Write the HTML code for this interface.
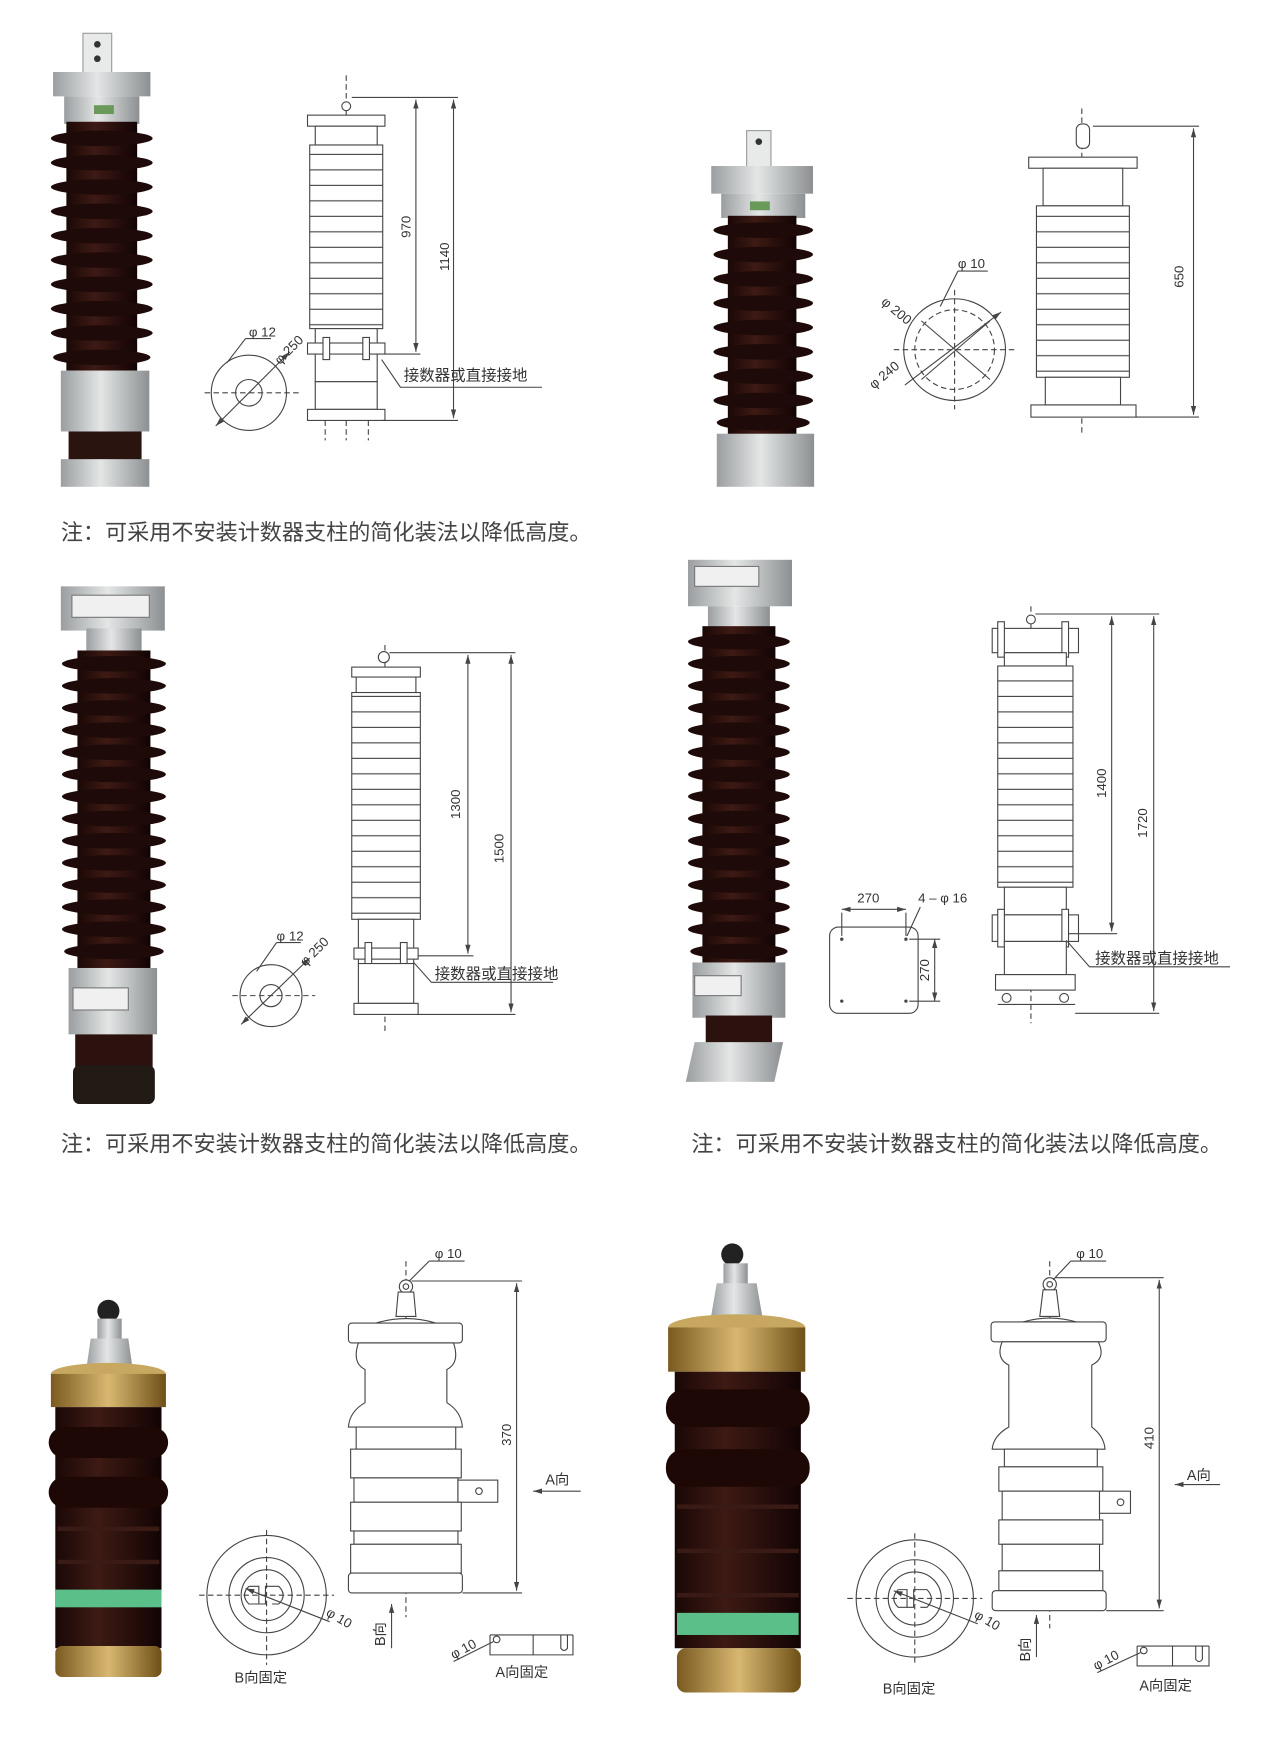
<!DOCTYPE html>
<html><head><meta charset="utf-8"><style>
html,body{margin:0;padding:0;background:#fff;}
svg{display:block;}
text{font-family:"Liberation Sans","Noto Sans CJK SC",sans-serif;fill:#333;}
.cap{font-size:20px;fill:#444;}
.l{fill:none;stroke:#444;stroke-width:1;}
.w{fill:#fff;stroke:#444;stroke-width:1;}
.d{fill:none;stroke:#444;stroke-width:1;stroke-dasharray:5,3;}
.t{font-size:12px;}
</style></head><body>
<svg width="1261" height="1749" viewBox="0 0 1140 1581" xmlns="http://www.w3.org/2000/svg">
<defs>
<marker id="ar" viewBox="0 0 10 10" refX="10" refY="5" markerWidth="8" markerHeight="8" orient="auto-start-reverse"><path d="M0,2 L10,5 L0,8z" fill="#444"/></marker>
<pattern id="dsh" x="0" y="0" width="400" height="14" patternUnits="userSpaceOnUse"><line x1="0" y1="13.5" x2="400" y2="13.5" stroke="#444"/></pattern>
<linearGradient id="met" x1="0" x2="1"><stop offset="0" stop-color="#9a9ea0"/><stop offset=".45" stop-color="#e4e6e6"/><stop offset="1" stop-color="#8c9092"/></linearGradient>
<linearGradient id="gold" x1="0" x2="1"><stop offset="0" stop-color="#7a5a20"/><stop offset=".5" stop-color="#d8b870"/><stop offset="1" stop-color="#6e5018"/></linearGradient>
<linearGradient id="brn" x1="0" x2="1"><stop offset="0" stop-color="#1a0806"/><stop offset=".4" stop-color="#3e1a14"/><stop offset="1" stop-color="#120404"/></linearGradient>
</defs>
<rect width="1140" height="1581" fill="#fff"/>

<!-- ===== Row1 left photo ===== -->
<rect x="75" y="30" width="26" height="38" fill="#e8eaea" stroke="#999"/>
<circle cx="88" cy="40" r="3" fill="#333"/><circle cx="88" cy="53" r="3" fill="#333"/>
<rect x="48" y="65" width="88" height="22" fill="url(#met)"/>
<rect x="58" y="87" width="68" height="25" fill="url(#met)"/>
<rect x="85" y="95" width="18" height="8" fill="#6a9a5a"/>
<rect x="60" y="110" width="64" height="225" fill="url(#brn)"/>
<g fill="#1e0a08"><ellipse cx="92" cy="125" rx="46" ry="7"/><ellipse cx="92" cy="147" rx="46" ry="7"/><ellipse cx="92" cy="169" rx="46" ry="7"/><ellipse cx="92" cy="191" rx="46" ry="7"/><ellipse cx="92" cy="213" rx="46" ry="7"/><ellipse cx="92" cy="235" rx="46" ry="7"/><ellipse cx="92" cy="257" rx="46" ry="7"/><ellipse cx="92" cy="279" rx="46" ry="7"/><ellipse cx="92" cy="301" rx="46" ry="7"/><ellipse cx="92" cy="323" rx="44" ry="7"/></g>
<rect x="55" y="335" width="80" height="55" fill="url(#met)"/>
<rect x="62" y="390" width="66" height="28" fill="#2a1410"/>
<rect x="55" y="415" width="80" height="25" fill="url(#met)"/>

<!-- ===== Row1 left drawing ===== -->
<line class="d" x1="313" y1="68" x2="313" y2="398"/>
<circle class="w" cx="313" cy="96" r="4"/>
<path class="w" d="M298,110 Q313,100 328,110 z"/>
<rect class="w" x="278" y="104" width="70" height="10"/>
<rect class="w" x="285" y="114" width="56" height="17"/>
<rect x="280" y="131" width="66" height="166" fill="#fff" stroke="#444"/>
<rect x="280" y="131" width="66" height="166" fill="url(#dsh)"/>
<rect class="w" x="285" y="297" width="56" height="48"/>
<rect class="w" x="278" y="310" width="70" height="10"/>
<rect class="w" x="292" y="305" width="6" height="20"/><rect class="w" x="328" y="305" width="6" height="20"/>
<rect class="w" x="285" y="345" width="56" height="25"/>
<rect class="w" x="278" y="370" width="70" height="10"/>
<line class="d" x1="294" y1="380" x2="294" y2="398"/><line class="d" x1="333" y1="380" x2="333" y2="398"/>
<line class="l" x1="318" y1="88" x2="414" y2="88"/>
<line class="l" x1="348" y1="320" x2="380" y2="320"/>
<line class="l" x1="345" y1="380" x2="414" y2="380"/>
<line class="l" x1="376" y1="90" x2="376" y2="318" marker-start="url(#ar)" marker-end="url(#ar)"/>
<line class="l" x1="410" y1="90" x2="410" y2="378" marker-start="url(#ar)" marker-end="url(#ar)"/>
<text class="t" transform="translate(371,205) rotate(-90)" text-anchor="middle">970</text>
<text class="t" transform="translate(406,232) rotate(-90)" text-anchor="middle">1140</text>
<polyline class="l" points="345,325 362,350 490,350"/>
<text x="365" y="344" style="font-size:14px">接数器或直接接地</text>
<circle class="l" cx="225" cy="355" r="34"/><circle class="l" cx="225" cy="355" r="12"/>
<line class="d" x1="185" y1="355" x2="272" y2="355"/>
<line class="l" x1="195" y1="385" x2="262" y2="318" marker-start="url(#ar)" marker-end="url(#ar)"/>
<line class="l" x1="205" y1="328" x2="222" y2="306"/><line class="l" x1="222" y1="306" x2="245" y2="306"/>
<text class="t" x="225" y="304">φ 12</text>
<text class="t" transform="translate(253,330) rotate(-45)">φ 250</text>

<text class="cap" x="55" y="488">注：可采用不安装计数器支柱的简化装法以降低高度。</text>

<!-- ===== Row1 right photo ===== -->
<rect x="675" y="118" width="22" height="36" fill="#e8eaea" stroke="#999"/>
<circle cx="686" cy="128" r="3" fill="#333"/>
<rect x="643" y="150" width="92" height="25" fill="url(#met)"/>
<rect x="652" y="175" width="76" height="22" fill="url(#met)"/>
<rect x="678" y="182" width="18" height="8" fill="#6a9a5a"/>
<rect x="658" y="195" width="62" height="200" fill="url(#brn)"/>
<g fill="#1e0a08"><ellipse cx="690" cy="208" rx="45" ry="7"/><ellipse cx="690" cy="230" rx="45" ry="7"/><ellipse cx="690" cy="252" rx="45" ry="7"/><ellipse cx="690" cy="274" rx="45" ry="7"/><ellipse cx="690" cy="296" rx="45" ry="7"/><ellipse cx="690" cy="318" rx="45" ry="7"/><ellipse cx="690" cy="340" rx="45" ry="7"/><ellipse cx="690" cy="362" rx="45" ry="7"/><ellipse cx="690" cy="382" rx="42" ry="7"/></g>
<rect x="648" y="392" width="88" height="48" fill="url(#met)"/>

<!-- ===== Row1 right drawing ===== -->
<line class="d" x1="978" y1="98" x2="978" y2="392"/>
<rect class="w" x="973" y="112" width="12" height="22" rx="5"/>
<rect class="w" x="930" y="142" width="98" height="10"/>
<rect class="w" x="943" y="152" width="72" height="34"/>
<rect x="937" y="186" width="84" height="155" fill="#fff" stroke="#444"/>
<rect x="937" y="186" width="84" height="155" fill="url(#dsh)"/>
<rect class="w" x="945" y="341" width="68" height="25"/>
<rect class="w" x="932" y="366" width="95" height="11"/>
<line class="l" x1="988" y1="114" x2="1084" y2="114"/>
<line class="l" x1="1027" y1="377" x2="1084" y2="377"/>
<line class="l" x1="1079" y1="116" x2="1079" y2="375" marker-start="url(#ar)" marker-end="url(#ar)"/>
<text class="t" transform="translate(1070,250) rotate(-90)" text-anchor="middle">650</text>
<circle class="l" cx="863" cy="316" r="46"/><circle class="d" cx="863" cy="316" r="36"/>
<line class="d" x1="808" y1="316" x2="918" y2="316"/><line class="d" x1="863" y1="262" x2="863" y2="370"/>
<line class="l" x1="833" y1="290" x2="895" y2="343"/><line class="l" x1="833" y1="343" x2="895" y2="290"/>
<line class="l" x1="818" y1="348" x2="905" y2="282" marker-end="url(#ar)"/>
<line class="l" x1="850" y1="277" x2="866" y2="245"/><line class="l" x1="866" y1="245" x2="893" y2="245"/>
<text class="t" x="866" y="242">φ 10</text>
<text class="t" transform="translate(796,274) rotate(40)">φ 200</text>
<text class="t" transform="translate(790,352) rotate(-40)">φ 240</text>

<!-- ===== Row2 left photo ===== -->
<rect x="55" y="530" width="94" height="40" fill="url(#met)"/>
<rect x="65" y="538" width="70" height="20" fill="#f0f0f0" stroke="#777"/>
<rect x="78" y="568" width="50" height="22" fill="url(#met)"/>
<rect x="70" y="588" width="66" height="290" fill="url(#brn)"/>
<g fill="#1e0a08"><ellipse cx="103" cy="600" rx="47" ry="7"/><ellipse cx="103" cy="620" rx="47" ry="7"/><ellipse cx="103" cy="640" rx="47" ry="7"/><ellipse cx="103" cy="660" rx="47" ry="7"/><ellipse cx="103" cy="680" rx="47" ry="7"/><ellipse cx="103" cy="700" rx="47" ry="7"/><ellipse cx="103" cy="720" rx="47" ry="7"/><ellipse cx="103" cy="740" rx="47" ry="7"/><ellipse cx="103" cy="760" rx="47" ry="7"/><ellipse cx="103" cy="780" rx="47" ry="7"/><ellipse cx="103" cy="800" rx="47" ry="7"/><ellipse cx="103" cy="820" rx="47" ry="7"/><ellipse cx="103" cy="840" rx="47" ry="7"/><ellipse cx="103" cy="860" rx="45" ry="7"/></g>
<rect x="62" y="875" width="80" height="60" fill="url(#met)"/>
<rect x="66" y="893" width="50" height="20" fill="#f0f0f0" stroke="#777"/>
<rect x="68" y="935" width="70" height="30" fill="#2c120e"/>
<rect x="66" y="963" width="74" height="35" rx="6" fill="#221a14"/>

<!-- ===== Row2 left drawing ===== -->
<line class="d" x1="348" y1="583" x2="348" y2="935"/>
<circle class="w" cx="347" cy="594" r="5"/>
<rect class="w" x="318" y="603" width="62" height="9"/>
<rect class="w" x="322" y="612" width="54" height="14"/>
<rect x="318" y="626" width="62" height="205" fill="#fff" stroke="#444"/>
<rect x="318" y="626" width="62" height="205" fill="url(#dsh)"/>
<rect class="w" x="324" y="831" width="50" height="40"/>
<rect class="w" x="320" y="857" width="58" height="10"/>
<rect class="w" x="330" y="852" width="6" height="20"/><rect class="w" x="362" y="852" width="6" height="20"/>
<rect class="w" x="324" y="871" width="50" height="36"/>
<rect class="w" x="320" y="907" width="58" height="10"/>
<line class="l" x1="352" y1="590" x2="466" y2="590"/>
<line class="l" x1="378" y1="864" x2="428" y2="864"/>
<line class="l" x1="378" y1="917" x2="466" y2="917"/>
<line class="l" x1="423" y1="592" x2="423" y2="862" marker-start="url(#ar)" marker-end="url(#ar)"/>
<line class="l" x1="462" y1="592" x2="462" y2="915" marker-start="url(#ar)" marker-end="url(#ar)"/>
<text class="t" transform="translate(416,727) rotate(-90)" text-anchor="middle">1300</text>
<text class="t" transform="translate(455,767) rotate(-90)" text-anchor="middle">1500</text>
<polyline class="l" points="374,870 390,888 500,888"/>
<text x="393" y="885" style="font-size:14px">接数器或直接接地</text>
<circle class="l" cx="245" cy="900" r="28"/><circle class="l" cx="245" cy="900" r="10"/>
<line class="d" x1="210" y1="900" x2="285" y2="900"/>
<line class="l" x1="218" y1="926" x2="280" y2="866" marker-start="url(#ar)" marker-end="url(#ar)"/>
<line class="l" x1="232" y1="878" x2="250" y2="852"/><line class="l" x1="250" y1="852" x2="272" y2="852"/>
<text class="t" x="250" y="850">φ 12</text>
<text class="t" transform="translate(276,874) rotate(-45)">φ 250</text>

<!-- ===== Row2 right photo ===== -->
<rect x="622" y="506" width="94" height="42" fill="url(#met)"/>
<rect x="628" y="512" width="58" height="18" fill="#f0f0f0" stroke="#777"/>
<rect x="640" y="548" width="56" height="20" fill="url(#met)"/>
<rect x="635" y="566" width="66" height="310" fill="url(#brn)"/>
<g fill="#1e0a08"><ellipse cx="668" cy="580" rx="46" ry="7"/><ellipse cx="668" cy="600" rx="46" ry="7"/><ellipse cx="668" cy="620" rx="46" ry="7"/><ellipse cx="668" cy="640" rx="46" ry="7"/><ellipse cx="668" cy="660" rx="46" ry="7"/><ellipse cx="668" cy="680" rx="46" ry="7"/><ellipse cx="668" cy="700" rx="46" ry="7"/><ellipse cx="668" cy="720" rx="46" ry="7"/><ellipse cx="668" cy="740" rx="46" ry="7"/><ellipse cx="668" cy="760" rx="46" ry="7"/><ellipse cx="668" cy="780" rx="46" ry="7"/><ellipse cx="668" cy="800" rx="46" ry="7"/><ellipse cx="668" cy="820" rx="46" ry="7"/><ellipse cx="668" cy="840" rx="46" ry="7"/><ellipse cx="668" cy="860" rx="44" ry="7"/></g>
<rect x="626" y="870" width="84" height="50" fill="url(#met)"/>
<rect x="628" y="882" width="42" height="18" fill="#f0f0f0" stroke="#777"/>
<rect x="638" y="918" width="60" height="25" fill="#2c120e"/>
<path d="M628,942 L708,942 L700,978 L620,978z" fill="url(#met)"/>

<!-- ===== Row2 right drawing ===== -->
<line class="d" x1="932" y1="548" x2="932" y2="925"/>
<circle class="w" cx="932" cy="560" r="4"/>
<rect class="w" x="897" y="568" width="78" height="22"/>
<rect class="w" x="902" y="562" width="6" height="32"/><rect class="w" x="960" y="562" width="6" height="32"/>
<rect class="w" x="908" y="590" width="56" height="12"/>
<rect x="902" y="602" width="68" height="200" fill="#fff" stroke="#444"/>
<rect x="902" y="602" width="68" height="200" fill="url(#dsh)"/>
<rect class="w" x="908" y="802" width="56" height="25"/>
<rect class="w" x="897" y="827" width="78" height="24"/>
<rect class="w" x="902" y="822" width="6" height="34"/><rect class="w" x="960" y="822" width="6" height="34"/>
<rect class="w" x="908" y="851" width="56" height="30"/>
<rect class="w" x="900" y="881" width="72" height="14"/>
<line class="l" x1="902" y1="908" x2="972" y2="908"/>
<circle class="w" cx="910" cy="902" r="4"/><circle class="w" cx="962" cy="902" r="4"/>
<line class="l" x1="936" y1="555" x2="1048" y2="555"/>
<line class="l" x1="966" y1="844" x2="1010" y2="844"/>
<line class="l" x1="972" y1="916" x2="1048" y2="916"/>
<line class="l" x1="1005" y1="557" x2="1005" y2="842" marker-start="url(#ar)" marker-end="url(#ar)"/>
<line class="l" x1="1043" y1="557" x2="1043" y2="914" marker-start="url(#ar)" marker-end="url(#ar)"/>
<text class="t" transform="translate(1000,708) rotate(-90)" text-anchor="middle">1400</text>
<text class="t" transform="translate(1037,744) rotate(-90)" text-anchor="middle">1720</text>
<polyline class="l" points="964,850 985,874 1112,874"/>
<text x="990" y="871" style="font-size:14px">接数器或直接接地</text>
<rect class="l" x="750" y="838" width="80" height="78" rx="8"/>
<circle cx="761" cy="849" r="1.5" fill="#444"/><circle cx="819" cy="849" r="1.5" fill="#444"/><circle cx="761" cy="905" r="1.5" fill="#444"/><circle cx="819" cy="905" r="1.5" fill="#444"/>
<line class="l" x1="761" y1="825" x2="761" y2="846"/><line class="l" x1="819" y1="825" x2="819" y2="846"/>
<line class="l" x1="761" y1="822" x2="819" y2="822" marker-start="url(#ar)" marker-end="url(#ar)"/>
<line class="l" x1="822" y1="849" x2="850" y2="849"/><line class="l" x1="822" y1="905" x2="850" y2="905"/>
<line class="l" x1="845" y1="849" x2="845" y2="905" marker-start="url(#ar)" marker-end="url(#ar)"/>
<text class="t" x="775" y="816">270</text>
<text class="t" x="830" y="816">4 – φ 16</text>
<line class="l" x1="820" y1="846" x2="832" y2="820"/>
<text class="t" transform="translate(840,877) rotate(-90)" text-anchor="middle">270</text>

<text class="cap" x="55" y="1041">注：可采用不安装计数器支柱的简化装法以降低高度。</text>
<text class="cap" x="625" y="1041">注：可采用不安装计数器支柱的简化装法以降低高度。</text>

<!-- ===== Row3 left photo ===== -->
<circle cx="98" cy="1185" r="10" fill="#222"/>
<rect x="88" y="1192" width="22" height="18" fill="url(#met)"/>
<path d="M82,1210 L116,1210 L120,1238 L78,1238z" fill="url(#met)"/>
<ellipse cx="98" cy="1242" rx="52" ry="10" fill="#c8a860"/>
<rect x="46" y="1242" width="104" height="30" fill="url(#gold)"/>
<rect x="50" y="1272" width="96" height="218" fill="url(#brn)"/>
<rect x="44" y="1290" width="108" height="28" rx="14" fill="#1e0806"/>
<rect x="44" y="1335" width="108" height="28" rx="14" fill="#1e0806"/>
<rect x="52" y="1380" width="92" height="4" fill="#3a1a14"/>
<rect x="52" y="1410" width="92" height="4" fill="#3a1a14"/>
<rect x="50" y="1437" width="96" height="16" fill="#5bbf8a"/>
<rect x="50" y="1488" width="96" height="28" rx="6" fill="url(#gold)"/>

<!-- ===== Row3 left drawing ===== -->
<line class="d" x1="367" y1="1140" x2="367" y2="1462"/>
<circle class="w" cx="367" cy="1163" r="6"/><circle class="l" cx="367" cy="1163" r="2.5"/>
<path class="w" d="M360,1168 L358,1190 L376,1190 L374,1168z"/>
<path class="w" d="M340,1196 Q367,1188 394,1196z"/>
<rect class="w" x="315" y="1196" width="103" height="18" rx="3"/>
<path class="w" d="M324,1214 Q318,1232 330,1238 L330,1268 Q316,1276 315,1290 L418,1290 Q417,1276 404,1268 L404,1238 Q416,1232 410,1214z"/>
<rect class="w" x="322" y="1290" width="90" height="20"/>
<rect class="w" x="317" y="1310" width="100" height="26"/>
<rect class="w" x="320" y="1336" width="94" height="22"/>
<rect class="w" x="414" y="1338" width="36" height="20"/><circle class="l" cx="433" cy="1348" r="3"/>
<rect class="w" x="317" y="1358" width="100" height="26"/>
<rect class="w" x="320" y="1384" width="94" height="12"/>
<rect class="w" x="317" y="1396" width="100" height="26"/>
<rect class="w" x="315" y="1422" width="103" height="18" rx="3"/>
<line class="l" x1="372" y1="1158" x2="472" y2="1158"/>
<line class="l" x1="418" y1="1440" x2="472" y2="1440"/>
<line class="l" x1="467" y1="1160" x2="467" y2="1438" marker-start="url(#ar)" marker-end="url(#ar)"/>
<text class="t" transform="translate(462,1297) rotate(-90)" text-anchor="middle">370</text>
<line class="l" x1="370" y1="1158" x2="388" y2="1140"/><line class="l" x1="388" y1="1140" x2="420" y2="1140"/>
<text class="t" x="393" y="1137">φ 10</text>
<line class="l" x1="525" y1="1348" x2="482" y2="1348" marker-end="url(#ar)"/>
<text class="t" x="493" y="1342" style="font-size:13px">A向</text>
<line class="l" x1="354" y1="1490" x2="354" y2="1450" marker-end="url(#ar)"/>
<text class="t" transform="translate(348,1488) rotate(-90)" style="font-size:13px">B向</text>
<circle class="l" cx="241" cy="1442" r="54"/><circle class="l" cx="241" cy="1442" r="34"/><circle class="l" cx="241" cy="1442" r="23"/>
<line class="d" x1="180" y1="1442" x2="302" y2="1442"/><line class="d" x1="241" y1="1383" x2="241" y2="1505"/>
<path class="l" d="M225,1434 L234,1434 L234,1450 L240,1450 L240,1434 L252,1434 Q260,1442 252,1450 L246,1450"/>
<path class="l" d="M225,1434 Q217,1442 225,1450 L234,1450"/>
<line class="l" x1="222" y1="1436" x2="298" y2="1466" marker-start="url(#ar)"/>
<text class="t" transform="translate(294,1460) rotate(30)">φ 10</text>
<text class="t" x="212" y="1521" style="font-size:13px">B向固定</text>
<path class="l" d="M443,1478 L443,1496 L518,1496 L518,1478 M513,1478 L513,1490 Q510,1494 507,1490 L507,1478 M482,1478 L482,1496 M443,1478 L518,1478"/>
<circle class="l" cx="449" cy="1482" r="3"/>
<line class="l" x1="410" y1="1502" x2="446" y2="1484"/>
<text class="t" transform="translate(410,1500) rotate(-28)">φ 10</text>
<text class="t" x="448" y="1516" style="font-size:13px">A向固定</text>

<!-- ===== Row3 right photo ===== -->
<circle cx="662" cy="1134" r="10" fill="#222"/>
<rect x="654" y="1142" width="22" height="20" fill="url(#met)"/>
<path d="M648,1160 L684,1160 L690,1195 L642,1195z" fill="url(#met)"/>
<ellipse cx="666" cy="1200" rx="62" ry="12" fill="#c8a860"/>
<rect x="604" y="1200" width="124" height="40" fill="url(#gold)"/>
<rect x="610" y="1240" width="114" height="250" fill="url(#brn)"/>
<rect x="602" y="1256" width="130" height="34" rx="16" fill="#1e0806"/>
<rect x="602" y="1310" width="130" height="34" rx="16" fill="#1e0806"/>
<rect x="612" y="1360" width="110" height="4" fill="#3a1a14"/>
<rect x="612" y="1400" width="110" height="4" fill="#3a1a14"/>
<rect x="612" y="1440" width="110" height="4" fill="#3a1a14"/>
<rect x="612" y="1458" width="110" height="20" fill="#5bbf8a"/>
<rect x="612" y="1490" width="112" height="40" rx="8" fill="url(#gold)"/>

<!-- ===== Row3 right drawing ===== -->
<line class="d" x1="949" y1="1140" x2="949" y2="1472"/>
<circle class="w" cx="949" cy="1161" r="6"/><circle class="l" cx="949" cy="1161" r="2.5"/>
<path class="w" d="M943,1166 L940,1190 L958,1190 L955,1166z"/>
<path class="w" d="M925,1195 Q949,1188 973,1195z"/>
<rect class="w" x="896" y="1195" width="104" height="18" rx="3"/>
<path class="w" d="M906,1213 Q900,1228 912,1234 L912,1290 Q898,1298 897,1310 L999,1310 Q998,1298 987,1290 L987,1234 Q1000,1228 993,1213z"/>
<rect class="w" x="908" y="1310" width="84" height="16"/>
<rect class="w" x="903" y="1326" width="94" height="22"/>
<rect class="w" x="906" y="1348" width="88" height="26"/>
<rect class="w" x="994" y="1348" width="28" height="20"/><circle class="l" cx="1013" cy="1358" r="3"/>
<rect class="w" x="903" y="1374" width="94" height="22"/>
<rect class="w" x="906" y="1396" width="88" height="24"/>
<rect class="w" x="903" y="1420" width="94" height="18"/>
<rect class="w" x="897" y="1438" width="103" height="18" rx="3"/>
<line class="l" x1="954" y1="1155" x2="1052" y2="1155"/>
<line class="l" x1="1000" y1="1456" x2="1052" y2="1456"/>
<line class="l" x1="1048" y1="1157" x2="1048" y2="1454" marker-start="url(#ar)" marker-end="url(#ar)"/>
<text class="t" transform="translate(1043,1300) rotate(-90)" text-anchor="middle">410</text>
<line class="l" x1="952" y1="1157" x2="968" y2="1140"/><line class="l" x1="968" y1="1140" x2="1000" y2="1140"/>
<text class="t" x="973" y="1137">φ 10</text>
<line class="l" x1="1103" y1="1342" x2="1062" y2="1342" marker-end="url(#ar)"/>
<text class="t" x="1073" y="1338" style="font-size:13px">A向</text>
<line class="l" x1="937" y1="1498" x2="937" y2="1460" marker-end="url(#ar)"/>
<text class="t" transform="translate(931,1502) rotate(-90)" style="font-size:13px">B向</text>
<circle class="l" cx="827" cy="1445" r="53"/><circle class="l" cx="827" cy="1445" r="35"/><circle class="l" cx="827" cy="1445" r="24"/>
<line class="d" x1="766" y1="1445" x2="888" y2="1445"/><line class="d" x1="827" y1="1386" x2="827" y2="1506"/>
<path class="l" d="M812,1437 L820,1437 L820,1453 L826,1453 L826,1437 L838,1437 Q846,1445 838,1453 L832,1453"/>
<path class="l" d="M812,1437 Q804,1445 812,1453 L820,1453"/>
<line class="l" x1="808" y1="1438" x2="884" y2="1468" marker-start="url(#ar)"/>
<text class="t" transform="translate(880,1462) rotate(30)">φ 10</text>
<text class="t" x="798" y="1531" style="font-size:13px">B向固定</text>
<path class="l" d="M1028,1488 L1028,1506 L1093,1506 L1093,1488 M1087,1488 L1087,1500 Q1084,1504 1081,1500 L1081,1488 M1060,1488 L1060,1506 M1028,1488 L1093,1488"/>
<circle class="l" cx="1034" cy="1492" r="3"/>
<line class="l" x1="992" y1="1512" x2="1031" y2="1494"/>
<text class="t" transform="translate(991,1510) rotate(-28)">φ 10</text>
<text class="t" x="1030" y="1528" style="font-size:13px">A向固定</text>
</svg>
</body></html>
